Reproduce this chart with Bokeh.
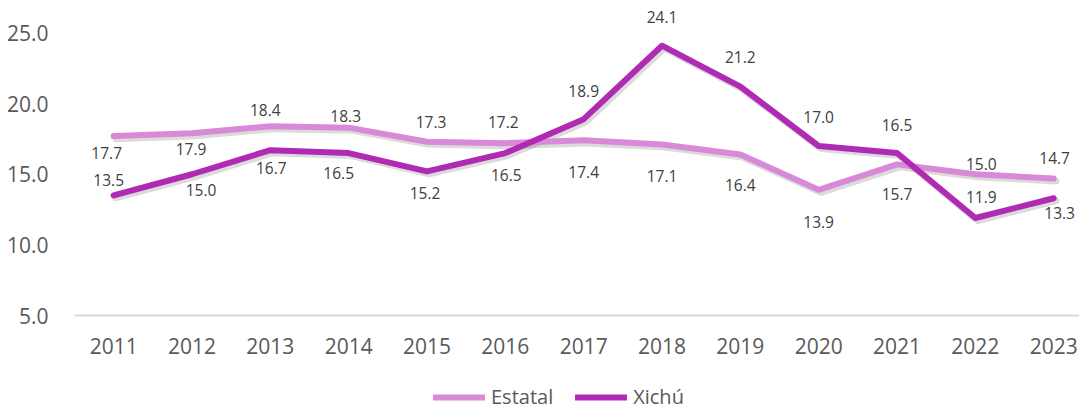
from bokeh.plotting import figure
from bokeh.layouts import column
from bokeh.models import ColumnDataSource, FixedTicker, NumeralTickFormatter, Legend, LegendItem, Range1d
from bokeh.transform import dodge
from bokeh.core.properties import value
from bokeh.embed import file_html
from bokeh.resources import INLINE

# ---- data ----
years = [2011, 2012, 2013, 2014, 2015, 2016, 2017, 2018, 2019, 2020, 2021, 2022, 2023]
estatal = [17.7, 17.9, 18.4, 18.3, 17.3, 17.2, 17.4, 17.1, 16.4, 13.9, 15.7, 15.0, 14.7]
xichu = [13.5, 15.0, 16.7, 16.5, 15.2, 16.5, 18.9, 24.1, 21.2, 17.0, 16.5, 11.9, 13.3]
y_ticks = [5, 10, 15, 20, 25]
series_names = ["Estatal", "Xichú"]

# ---- styles ----
C_EST = "#D88AD8"
C_XIC = "#B02AB3"
TXT = "#595959"
LBL = "#404040"
FONT = "Open Sans"

# data-label placement (screen px, +down)
est_dx = [-7, -1, -5, -3, 4, -2, 0, 0, 0, 0, 0, 6, 1]
est_dy = [17, 16, -16, -12, -20, -21, 32, 31, 31, 32, 30, -10, -20]
xic_dx = [-5, 9, 1, -10, -2, 1, 0, 0, 0, 0, 0, 6, 6]
xic_dy = [-15, 16, 18, 20, 22, 22, -28, -29, -30, -29, -28, -21, 15]

src_e = ColumnDataSource(dict(x=years, y=estatal, t=[f"{v:.1f}" for v in estatal], dx=est_dx, dy=est_dy))
src_x = ColumnDataSource(dict(x=years, y=xichu, t=[f"{v:.1f}" for v in xichu], dx=xic_dx, dy=xic_dy))

MAIN_H = 372
p = figure(width=1079, height=MAIN_H, output_backend="svg", toolbar_location=None,
           x_range=Range1d(2010.5, 2023.33), y_range=Range1d(5, 27.3),
           min_border_left=74, min_border_right=0, min_border_top=0, min_border_bottom=MAIN_H - 315)
p.outline_line_color = None
p.xgrid.visible = False
p.ygrid.visible = False
p.background_fill_color = "white"
p.border_fill_color = "white"

# axes
p.yaxis.ticker = FixedTicker(ticks=y_ticks)
p.yaxis.formatter = NumeralTickFormatter(format="0.0")
p.yaxis.axis_line_color = None
p.yaxis.major_tick_line_color = None
p.yaxis.minor_tick_line_color = None
p.yaxis.major_label_standoff = 20
p.yaxis.major_label_text_font = FONT
p.yaxis.major_label_text_font_size = "21px"
p.yaxis.major_label_text_color = TXT

p.xaxis.ticker = FixedTicker(ticks=years)
p.xaxis.axis_line_color = "#D9D9D9"
p.xaxis.axis_line_width = 2
p.xaxis.major_tick_line_color = None
p.xaxis.minor_tick_line_color = None
p.xaxis.major_label_standoff = 16
p.xaxis.major_label_text_font = FONT
p.xaxis.major_label_text_font_size = "21px"
p.xaxis.major_label_text_color = TXT

# shadows
for s in (src_e, src_x):
    p.line(x=dodge("x", 0.03, range=p.x_range), y=dodge("y", -0.18, range=p.y_range), source=s,
           line_color="black", line_alpha=0.14, line_width=7, line_cap="round", line_join="round")

r_e = p.line("x", "y", source=src_e, line_color=C_EST, line_width=6, line_cap="round", line_join="round")
r_x = p.line("x", "y", source=src_x, line_color=C_XIC, line_width=6, line_cap="round", line_join="round")

for s in (src_e, src_x):
    p.text("x", "y", text="t", source=s, x_offset="dx", y_offset="dy",
           text_align="center", text_baseline="middle",
           text_font=value(FONT), text_font_size="15.5px", text_color=LBL)

# ---- legend strip (series drawn out of view; only their legend swatches show) ----
LEG_H = 410 - MAIN_H
q = figure(width=1079, height=LEG_H, output_backend="svg", toolbar_location=None,
           x_range=Range1d(0, 1), y_range=Range1d(0, 1),
           x_axis_location=None, y_axis_location=None,
           min_border_left=74, min_border_right=0, min_border_top=0, min_border_bottom=0)
q.outline_line_color = None
q.xgrid.visible = False
q.ygrid.visible = False
l_e = q.line("x", "y", source=src_e, line_color=C_EST, line_width=6, line_cap="round")
l_x = q.line("x", "y", source=src_x, line_color=C_XIC, line_width=6, line_cap="round")

legend = Legend(items=[LegendItem(label=series_names[0], renderers=[l_e]),
                       LegendItem(label=series_names[1], renderers=[l_x])],
                orientation="horizontal", location=(359, 0),
                glyph_width=52, glyph_height=20, label_height=20, label_standoff=6,
                spacing=22, padding=0, margin=0,
                border_line_color=None, background_fill_alpha=0,
                label_text_font=FONT, label_text_font_size="20px", label_text_color=TXT)
q.add_layout(legend, "center")

layout = column(p, q, spacing=0)
open("out.html", "w").write(file_html(layout, INLINE))
